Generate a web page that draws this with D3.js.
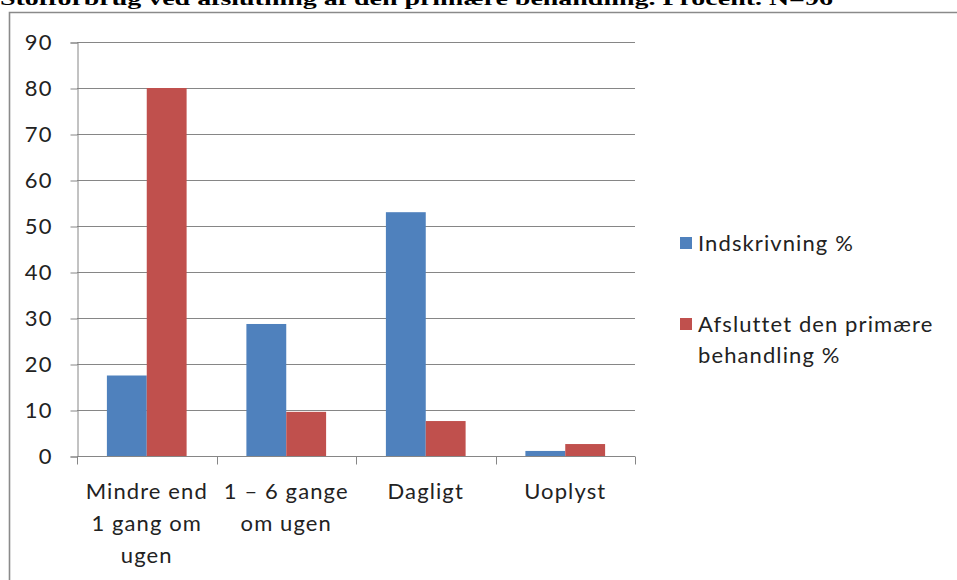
<!DOCTYPE html>
<html><head><meta charset="utf-8">
<script src="https://cdn.jsdelivr.net/npm/d3@7"></script>
<style>body{margin:0;background:#fff;overflow:hidden}svg{display:block}</style>
</head><body>
<script>
const title = "Stofforbrug ved afslutning af den primære behandling. Procent. N=96";
const categories = [["Mindre end","1 gang om","ugen"],["1 – 6 gange","om ugen"],["Dagligt"],["Uoplyst"]];
const seriesNames = ["Indskrivning %", "Afsluttet den primære behandling %"];
const indskrivning = [17.5, 28.7, 53, 1.1];
const afsluttet = [80, 9.6, 7.6, 2.6];
const yTicks = [0,10,20,30,40,50,60,70,80,90];
const colors = ["#4F81BD", "#C0504D"];

const W = 957, H = 580;
const svg = d3.select("body").append("svg").attr("width", W).attr("height", H);
const font = "Lato, 'Open Sans', sans-serif";
const fs = 22;
const ls = 1.1;

svg.append("text").attr("x", 0).attr("y", 5).attr("textLength", 833).attr("lengthAdjust","spacingAndGlyphs")
  .attr("font-family", "'Liberation Serif', 'DejaVu Serif', serif").attr("font-weight", "bold")
  .attr("font-size", 19).attr("fill", "#000").text(title);

// frame
svg.append("path").attr("d", `M9.5,${H} V12.5 H${W}`).attr("fill","none").attr("stroke","#8a8a8a").attr("stroke-width",1.6);

const x0 = 77, x1 = 635, yTop = 42, yBot = 456;
const y = d3.scaleLinear().domain([0, 90]).range([yBot, yTop]);
const x = d3.scaleBand().domain(d3.range(categories.length)).range([x0, x1]).paddingInner(0).paddingOuter(0);
const bw = x.bandwidth() / 3.5;
const xs = d3.scaleBand().domain([0,1]).range([0.75*bw, 2.75*bw]).padding(0);

// gridlines
svg.append("g").selectAll("line").data(yTicks.filter(d => d > 0)).join("line")
  .attr("x1", x0).attr("x2", x1).attr("y1", d => Math.round(y(d))+0.5).attr("y2", d => Math.round(y(d))+0.5)
  .attr("stroke", "#868686").attr("stroke-width", 1);

// y axis
const yAxis = svg.append("g").attr("transform", `translate(${x0+0.5},0.5)`)
  .call(d3.axisLeft(y).tickValues(yTicks).tickSize(7).tickPadding(18).tickFormat(d3.format("d")));
yAxis.select(".domain").attr("stroke", "#868686");
yAxis.selectAll(".tick line").attr("stroke", "#868686");
yAxis.selectAll(".tick text").attr("font-family", font).attr("font-size", fs).attr("letter-spacing", ls).attr("fill", "#222");

// bars
const data = categories.map((c, i) => [indskrivning[i], afsluttet[i]]);
const groups = svg.append("g").selectAll("g").data(data).join("g")
  .attr("transform", (d, i) => `translate(${x(i)},0)`);
groups.selectAll("rect").data(d => d).join("rect")
  .attr("x", (d, j) => xs(j)).attr("width", xs.bandwidth())
  .attr("y", d => y(d)).attr("height", d => y(0) - y(d))
  .attr("fill", (d, j) => colors[j]);

// x axis
const xAxis = svg.append("g").attr("transform", `translate(0,${Math.round(yBot)+0.5})`);
xAxis.append("line").attr("x1", x0).attr("x2", x1).attr("stroke", "#868686");
xAxis.selectAll(".t").data(d3.range(categories.length + 1)).join("line")
  .attr("x1", i => Math.round(x0 + i * x.bandwidth())+0.5).attr("x2", i => Math.round(x0 + i * x.bandwidth())+0.5)
  .attr("y1", 0).attr("y2", 8).attr("stroke", "#868686");
categories.forEach((lines, i) => {
  const t = svg.append("text").attr("text-anchor", "middle").attr("font-family", font)
    .attr("font-size", fs).attr("letter-spacing", ls).attr("fill", "#222");
  lines.forEach((ln, k) => t.append("tspan").attr("x", x(i) + x.bandwidth()/2).attr("y", 499 + k * 32).text(ln));
});

// legend
const legend = [
  {name: ["Indskrivning %"], y: 243},
  {name: ["Afsluttet den primære", "behandling %"], y: 324}
];
legend.forEach((l, i) => {
  svg.append("rect").attr("x", 680).attr("y", l.y - 6).attr("width", 12).attr("height", 12).attr("fill", colors[i]);
  const t = svg.append("text").attr("font-family", font).attr("font-size", fs).attr("letter-spacing", ls).attr("fill", "#222");
  l.name.forEach((ln, k) => t.append("tspan").attr("x", 698).attr("y", l.y + 8 + k * 31).text(ln));
});
</script>
</body></html>
